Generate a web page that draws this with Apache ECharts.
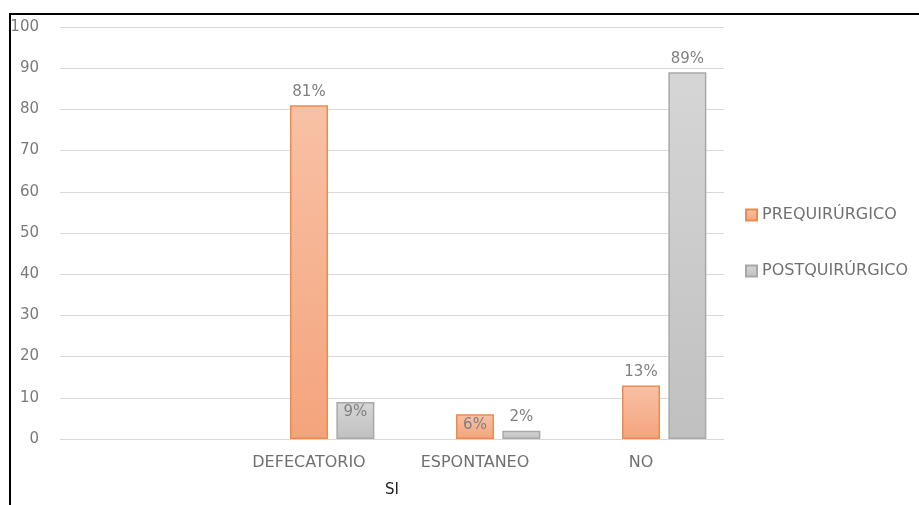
<!DOCTYPE html>
<html>
<head>
<meta charset="utf-8">
<script src="https://cdn.jsdelivr.net/npm/echarts@6/dist/echarts.min.js"></script>
<style>
  html, body { margin: 0; padding: 0; background: #fff; }
  #chart { width: 919px; height: 505px; }
</style>
</head>
<body>
<div id="chart"></div>
<script>
// Categories along the x axis (first slot intentionally blank)
const categories = ['', 'DEFECATORIO', 'ESPONTANEO', 'NO'];
// Percentages per group
const preValues = [null, 81, 6, 13];
const postValues = [null, 9, 2, 89];
// Empty placeholder series that holds the first bar slot of each group
const spacerValues = [null, null, null, null];
const seriesNames = ['PREQUIRÚRGICO', 'POSTQUIRÚRGICO'];
const groupLabel = 'SI';

const FONT = 'DejaVu Sans';
const chart = echarts.init(document.getElementById('chart'));

const orangeFill = new echarts.graphic.LinearGradient(0, 0, 0, 1, [
  { offset: 0, color: '#f8c1a6' },
  { offset: 1, color: '#f4a47c' }
]);
const greyFill = new echarts.graphic.LinearGradient(0, 0, 0, 1, [
  { offset: 0, color: '#d6d6d6' },
  { offset: 1, color: '#c0c0c0' }
]);

// Small values sit inside the bar top, the rest above it
function labelFor(values, insideSet) {
  return values.map((v, i) => {
    if (v == null) return v;
    const inside = insideSet.indexOf(i) >= 0;
    return {
      value: v,
      label: { position: inside ? 'insideTop' : 'top', distance: inside ? 3 : 6 }
    };
  });
}

const valueLabel = {
  show: true,
  formatter: '{c}%',
  color: '#808080',
  fontSize: 15,
  fontFamily: FONT
};

chart.setOption({
  animation: false,
  textStyle: { fontFamily: FONT },
  graphic: [{
    type: 'rect',
    shape: { x: 10, y: 14, width: 1000, height: 1000 },
    style: { fill: 'none', stroke: '#000', lineWidth: 2 },
    z: 100
  }],
  grid: { left: 60, right: 195, top: 27, bottom: 66 },
  legend: {
    orient: 'vertical',
    left: 740,
    top: 202,
    itemWidth: 11,
    itemHeight: 11,
    itemGap: 40,
    icon: 'rect',
    textStyle: { color: '#707070', fontSize: 16, fontFamily: FONT },
    data: seriesNames
  },
  xAxis: {
    type: 'category',
    data: categories,
    name: groupLabel,
    nameLocation: 'middle',
    nameGap: 44,
    nameTextStyle: { color: '#222', fontSize: 15, fontFamily: FONT },
    axisLine: { lineStyle: { color: '#d9d9d9', width: 1 } },
    axisTick: { show: false },
    axisLabel: { color: '#707070', fontSize: 16, margin: 16, fontFamily: FONT }
  },
  yAxis: {
    type: 'value',
    min: 0,
    max: 100,
    interval: 10,
    axisLine: { show: false },
    axisTick: { show: false },
    axisLabel: { color: '#7a7a7a', fontSize: 15, margin: 21, fontFamily: FONT },
    splitLine: { lineStyle: { color: '#d9d9d9', width: 1 } }
  },
  series: [
    {
      name: 'spacer',
      type: 'bar',
      barWidth: 38,
      barGap: '22%',
      data: spacerValues,
      silent: true
    },
    {
      name: seriesNames[0],
      type: 'bar',
      barWidth: 38,
      barGap: '22%',
      data: labelFor(preValues, [2]),
      itemStyle: { color: orangeFill, borderColor: '#ee8a4d', borderWidth: 1.5 },
      label: valueLabel
    },
    {
      name: seriesNames[1],
      type: 'bar',
      barWidth: 38,
      data: labelFor(postValues, [1]),
      itemStyle: { color: greyFill, borderColor: '#a8a8a8', borderWidth: 1.5 },
      label: valueLabel
    }
  ]
});
</script>
</body>
</html>
